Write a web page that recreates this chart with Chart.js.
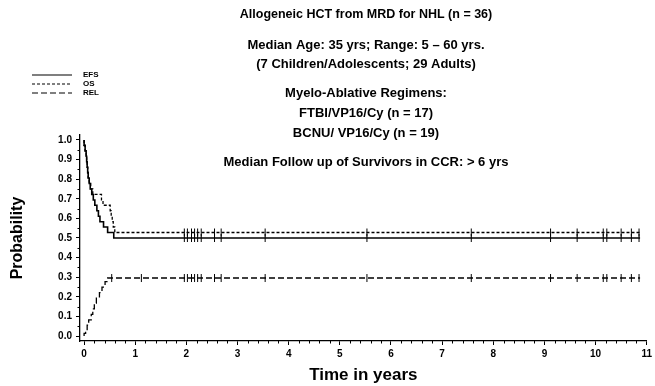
<!DOCTYPE html>
<html>
<head>
<meta charset="utf-8">
<script src="https://cdn.jsdelivr.net/npm/chart.js@4.4.1/dist/chart.umd.min.js"></script>
<style>
  html, body { margin: 0; padding: 0; background: #fff; }
  #wrap { width: 655px; height: 386px; position: relative; }
</style>
</head>
<body>
<div id="wrap"><canvas id="km"></canvas></div>
<script>
// Kaplan-Meier / cumulative incidence data (years)
const EFS_TIMES = [0.02, 0.04, 0.05, 0.06, 0.07, 0.08, 0.10, 0.12, 0.15, 0.18, 0.21, 0.25, 0.28, 0.31, 0.38, 0.46, 0.58, 0.93];
const EFS_VALUES = [0.972, 0.944, 0.917, 0.889, 0.861, 0.833, 0.806, 0.778, 0.750, 0.722, 0.694, 0.667, 0.639, 0.611, 0.583, 0.556, 0.528, 0.500];

const OS_TIMES = [0.02, 0.04, 0.05, 0.06, 0.07, 0.08, 0.10, 0.13, 0.17, 0.34, 0.37, 0.51, 0.53, 0.55, 0.57, 0.60, 0.93];
const OS_VALUES = [0.972, 0.944, 0.917, 0.889, 0.861, 0.833, 0.806, 0.778, 0.750, 0.722, 0.694, 0.667, 0.639, 0.611, 0.583, 0.556, 0.528];

const REL_TIMES = [0.03, 0.06, 0.09, 0.14, 0.17, 0.20, 0.24, 0.30, 0.35, 0.41, 0.46, 0.48];
const REL_VALUES = [0.014, 0.028, 0.056, 0.083, 0.111, 0.139, 0.167, 0.194, 0.222, 0.250, 0.278, 0.296];

const CENSOR_TIMES = [1.96, 2.02, 2.10, 2.16, 2.22, 2.29, 2.55, 2.68, 3.54, 5.53, 7.57, 9.12, 9.64, 10.15, 10.22, 10.50, 10.70, 10.85];
const REL_EXTRA_CENSOR = [0.54, 1.12];
const LAST_TIME = 10.87;

const X_TICKS = [0, 1, 2, 3, 4, 5, 6, 7, 8, 9, 10, 11];
const Y_TICKS = [0, 0.1, 0.2, 0.3, 0.4, 0.5, 0.6, 0.7, 0.8, 0.9, 1.0];

const TITLE_LINES = [
  "Allogeneic HCT from MRD for NHL (n = 36)",
  "Median Age: 35 yrs; Range: 5 \u2013 60 yrs.",
  "(7 Children/Adolescents; 29 Adults)",
  "Myelo-Ablative Regimens:",
  "FTBI/VP16/Cy (n = 17)",
  "BCNU/ VP16/Cy (n = 19)",
  "Median Follow up of Survivors in CCR: > 6 yrs",
];
const TITLE_Y = [15, 45, 64, 93, 113, 133, 162];
const TITLE_SIZE = [12.5, 13, 13, 13, 13, 13, 13];

const FONT = "'Liberation Sans', Arial, sans-serif";

const stepPoints = (times, values, start) => {
  const pts = [{ x: 0, y: start }];
  times.forEach((t, i) => pts.push({ x: t, y: values[i] }));
  pts.push({ x: LAST_TIME, y: values[values.length - 1] });
  return pts;
};

const levelAt = (times, values, start, t) => {
  let v = start;
  times.forEach((tt, i) => { if (tt <= t) v = values[i]; });
  return v;
};

const censorPoints = (times, values, start, list) =>
  list.map((t) => ({ x: t, y: levelAt(times, values, start, t) }));

const curve = (label, data, dash, width) => ({
  type: "line",
  label,
  data,
  stepped: "after",
  borderColor: "#000",
  borderWidth: width,
  borderDash: dash,
  pointRadius: 0,
  fill: false,
});

const censor = (label, data) => ({
  type: "scatter",
  label,
  data,
  pointStyle: "line",
  rotation: 90,
  pointRadius: 4,
  pointBorderWidth: 1,
  borderColor: "#000",
  showLine: false,
});

// titles, legend and minor ticks
const decorations = {
  id: "decorations",
  afterDraw(chart) {
    const { ctx, scales } = chart;
    ctx.save();
    ctx.fillStyle = "#000";
    ctx.strokeStyle = "#000";
    ctx.textAlign = "center";
    ctx.textBaseline = "middle";
    TITLE_LINES.forEach((line, i) => {
      ctx.font = "bold " + TITLE_SIZE[i] + "px " + FONT;
      ctx.fillText(line, 366, TITLE_Y[i]);
    });

    // legend
    ctx.font = "bold 8px " + FONT;
    ctx.textAlign = "left";
    chart.data.datasets.slice(0, 3).forEach((ds, i) => {
      const y = 75 + i * 9;
      ctx.setLineDash(ds.borderDash || []);
      ctx.lineWidth = 1.2;
      ctx.beginPath();
      ctx.moveTo(32, y);
      ctx.lineTo(72, y);
      ctx.stroke();
      ctx.fillText(ds.label, 83, y);
    });
    ctx.setLineDash([]);

    // minor ticks
    ctx.lineWidth = 1;
    const x = scales.x, yS = scales.y;
    ctx.beginPath();
    for (let v = 0.2; v < 11; v += 0.2) {
      if (Math.abs(v - Math.round(v)) < 0.01) continue;
      const px = Math.round(x.getPixelForValue(v)) + 0.5;
      ctx.moveTo(px, yS.bottom);
      ctx.lineTo(px, yS.bottom + 2.5);
    }
    for (let v = 0.05; v < 1; v += 0.1) {
      const py = Math.round(yS.getPixelForValue(v)) + 0.5;
      ctx.moveTo(x.left, py);
      ctx.lineTo(x.left - 2.5, py);
    }
    ctx.stroke();
    ctx.restore();
  },
};

const CONFIG = {
  data: {
    datasets: [
      curve("EFS", stepPoints(EFS_TIMES, EFS_VALUES, 1), [], 1.6),
      curve("OS", stepPoints(OS_TIMES, OS_VALUES, 1), [3, 2], 1.3),
      curve("REL", stepPoints(REL_TIMES, REL_VALUES, 0), [6, 3], 1.3),
      censor("EFS censored", censorPoints(EFS_TIMES, EFS_VALUES, 1, CENSOR_TIMES)),
      censor("OS censored", censorPoints(OS_TIMES, OS_VALUES, 1, CENSOR_TIMES)),
      censor("REL censored", censorPoints(REL_TIMES, REL_VALUES, 0, CENSOR_TIMES.concat(REL_EXTRA_CENSOR))),
    ],
  },
  options: {
    responsive: true,
    maintainAspectRatio: false,
    animation: false,
    layout: { padding: { top: 135, right: 5, bottom: 0, left: 0 } },
    plugins: {
      legend: { display: false },
      tooltip: { enabled: false },
      title: { display: false },
    },
    scales: {
      x: {
        type: "linear",
        min: -0.08,
        max: 11,
        afterBuildTicks: (s) => { s.ticks = X_TICKS.map((v) => ({ value: v })); },
        afterFit: (s) => { s.height = 45; },
        border: { display: true, color: "#000", width: 1.3 },
        grid: { display: true, drawOnChartArea: false, drawTicks: true, tickLength: 4, color: "#000" },
        ticks: { color: "#000", padding: 3, font: { family: FONT, weight: "bold", size: 10 } },
        title: { display: true, text: "Time in years", color: "#000", padding: 0, font: { family: FONT, weight: "bold", size: 17 } },
      },
      y: {
        type: "linear",
        min: -0.025,
        max: 1.025,
        afterBuildTicks: (s) => { s.ticks = Y_TICKS.map((v) => ({ value: v })); },
        afterFit: (s) => { s.width = 80; },
        border: { display: true, color: "#000", width: 1.3 },
        grid: { display: true, drawOnChartArea: false, drawTicks: true, tickLength: 4, color: "#000" },
        ticks: {
          color: "#000",
          padding: 4,
          font: { family: FONT, weight: "bold", size: 10 },
          callback: (v) => Number(v).toFixed(1),
        },
        title: { display: true, text: "Probability", color: "#000", padding: { top: 8, bottom: 0 }, font: { family: FONT, weight: "bold", size: 16 } },
      },
    },
  },
  plugins: [decorations],
};

new Chart(document.getElementById("km"), CONFIG);
</script>
</body>
</html>
